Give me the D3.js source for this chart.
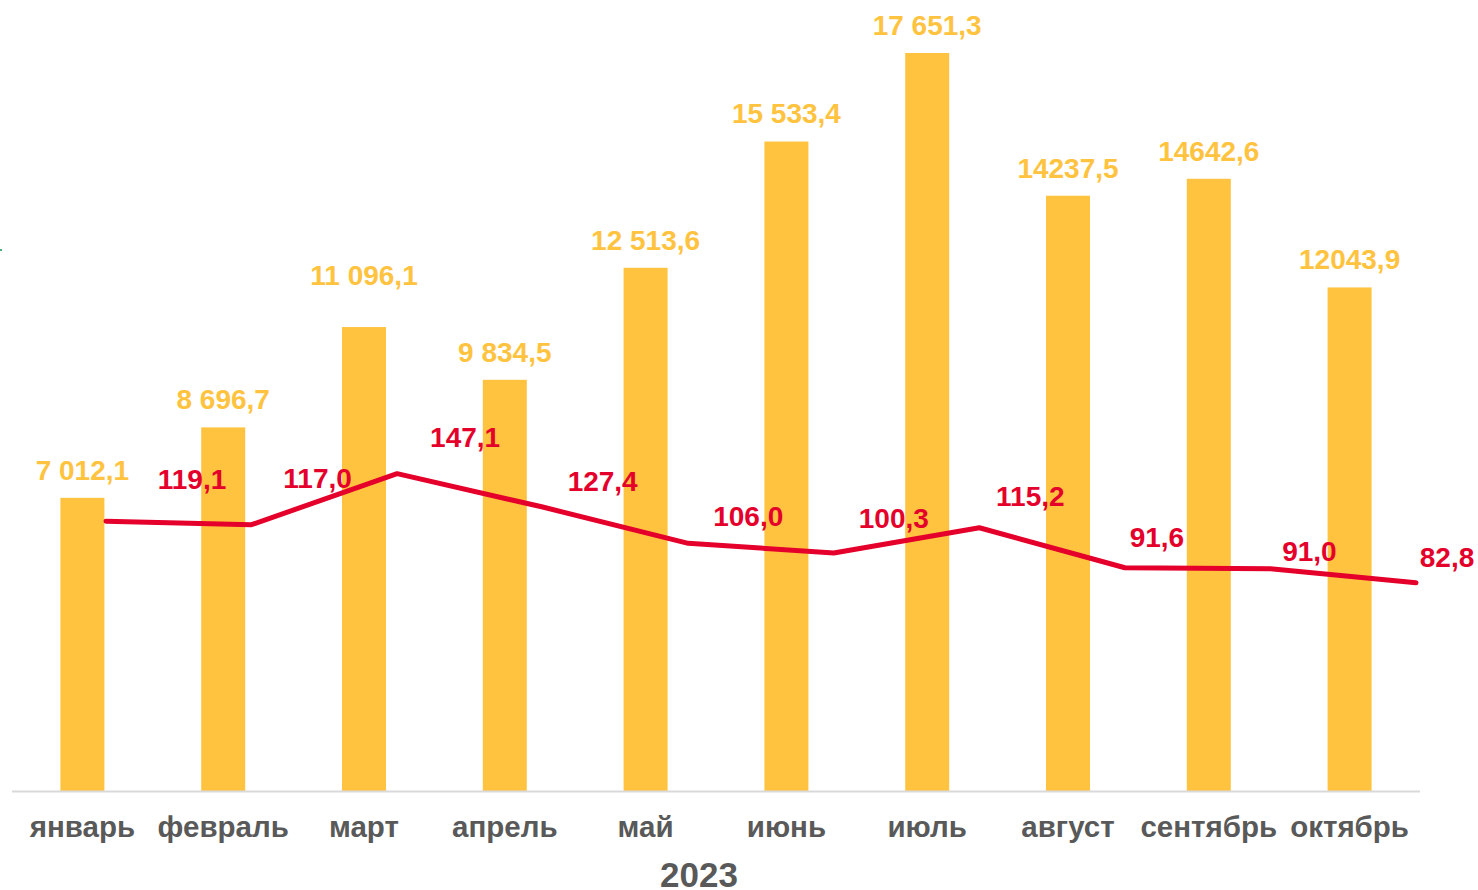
<!DOCTYPE html>
<html>
<head>
<meta charset="utf-8">
<script src="https://cdn.jsdelivr.net/npm/d3@7"></script>
<style>
  body { margin: 0; background: #fff; }
  svg { display: block; font-family: "Liberation Sans", Arial, sans-serif; font-weight: bold; }
</style>
</head>
<body>
<svg width="1478" height="890"></svg>
<script>
// months of 2023
var months = ["январь", "февраль", "март", "апрель", "май", "июнь", "июль", "август", "сентябрь", "октябрь"];
var barValues = [7012.1, 8696.7, 11096.1, 9834.5, 12513.6, 15533.4, 17651.3, 14237.5, 14642.6, 12043.9];
var barLabels = ["7 012,1", "8 696,7", "11 096,1", "9 834,5", "12 513,6", "15 533,4", "17 651,3", "14237,5", "14642,6", "12043,9"];
var lineValues = [119.1, 117.0, 147.1, 127.4, 106.0, 100.3, 115.2, 91.6, 91.0, 82.8];
var yearLabel = "2023";

var svg = d3.select("svg"),
    width = +svg.attr("width"),
    height = +svg.attr("height");

var barColor = "#FFC340",
    lineColor = "#E4002B",
    textGrey = "#595959";

var fmt = function(v) { return d3.format(".1f")(v).replace(".", ","); };

var x = d3.scaleBand()
    .domain(months)
    .range([12, 1420])
    .paddingInner(0.6875)
    .paddingOuter(0.34375);

// the line sits on its own (secondary) axis, shifted to the right
var x2 = d3.scalePoint()
    .domain(months)
    .range([106, 1416]);

var y = d3.scaleLinear().domain([0, 18000]).range([791, 38.4]);
var y2 = d3.scaleLinear().domain([0, 160]).range([723, 451.8]);

// tiny marker at the left edge
svg.append("rect").attr("x", 0).attr("y", 249).attr("width", 2).attr("height", 2).attr("fill", "#4caf7f");

svg.append("g")
    .selectAll("rect")
    .data(barValues)
    .enter().append("rect")
    .attr("x", function(d, i) { return x(months[i]); })
    .attr("y", function(d) { return y(d); })
    .attr("width", x.bandwidth())
    .attr("height", function(d) { return y(0) - y(d); })
    .attr("fill", barColor);

// axis line + month names
svg.append("line")
    .attr("x1", 12).attr("x2", 1420)
    .attr("y1", y(0) + 0.5).attr("y2", y(0) + 0.5)
    .attr("stroke", "#d9d9d9").attr("stroke-width", 2);

svg.append("g")
    .selectAll("text")
    .data(months)
    .enter().append("text")
    .attr("x", function(d) { return x(d) + x.bandwidth() / 2; })
    .attr("y", 827)
    .attr("dy", "0.35em")
    .attr("text-anchor", "middle")
    .attr("font-size", 29.5)
    .attr("fill", textGrey)
    .text(function(d) { return d; });

svg.append("text")
    .attr("x", 699).attr("y", 887)
    .attr("text-anchor", "middle")
    .attr("font-size", 35)
    .attr("fill", textGrey)
    .text(yearLabel);

// bar value labels (the march one was dragged up in the original)
var barLift = [0, 0, 24, 0, 0, 0, 0, 0, 0, 0];

svg.append("g")
    .selectAll("text")
    .data(barLabels)
    .enter().append("text")
    .attr("x", function(d, i) { return x(months[i]) + x.bandwidth() / 2; })
    .attr("y", function(d, i) { return y(barValues[i]) - 28 - barLift[i]; })
    .attr("dy", "0.35em")
    .attr("text-anchor", "middle")
    .attr("font-size", 28)
    .attr("fill", barColor)
    .text(function(d) { return d; });

// line
var line = d3.line()
    .x(function(d, i) { return x2(months[i]); })
    .y(function(d) { return y2(d); });

svg.append("path")
    .datum(lineValues)
    .attr("d", line)
    .attr("fill", "none")
    .attr("stroke", lineColor)
    .attr("stroke-width", 5)
    .attr("stroke-linecap", "round")
    .attr("stroke-linejoin", "round");

// hand-placed label offsets from each point, as in the original
var nudge = [[86, -42], [66, -46], [68, -36], [60, -26], [60, -27], [60, -35], [51, -32], [32, -31], [39, -18], [31, -25]];

svg.append("g")
    .selectAll("text")
    .data(lineValues)
    .enter().append("text")
    .attr("x", function(d, i) { return x2(months[i]) + nudge[i][0]; })
    .attr("y", function(d, i) { return y2(d) + nudge[i][1]; })
    .attr("dy", "0.35em")
    .attr("text-anchor", "middle")
    .attr("font-size", 28)
    .attr("fill", lineColor)
    .text(function(d) { return fmt(d); });
</script>
</body>
</html>
